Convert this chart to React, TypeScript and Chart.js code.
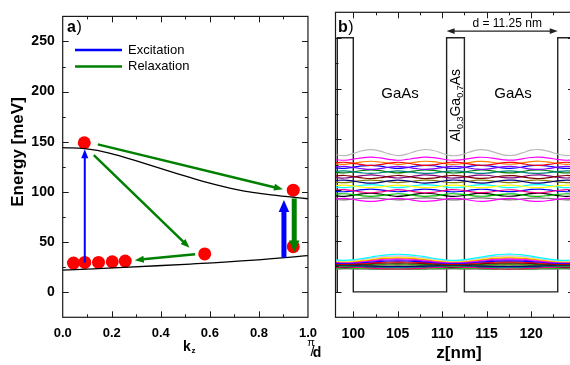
import React, { useEffect, useRef } from 'react';
import { Chart, registerables } from 'chart.js';
Chart.register(...registerables);

// ---------- data ----------
const KZ_TICKS = [0, 0.2, 0.4, 0.6, 0.8, 1.0];
const KZ_MINOR = [0.1, 0.3, 0.5, 0.7, 0.9];
const ENERGY_TICKS = [0, 50, 100, 150, 200, 250];
const ENERGY_MINOR = [-25, 25, 75, 125, 175, 225];
const Z_TICKS = [100, 105, 110, 115, 120];
const Z_MINOR = [102.5, 107.5, 112.5, 117.5, 122.5];

const UPPER_KZ = [0, 0.09, 0.19, 0.32, 0.45, 0.58, 0.71, 0.85, 1.0];
const UPPER_DISP = [144.1, 143.1, 138.8, 129.4, 119.6, 110.0, 102.4, 97.0, 93.2];
const LOWER_KZ = [0, 0.25, 0.52, 0.78, 1.0];
const LOWER_DISP = [22.0, 24.8, 28.1, 32.0, 36.5];

const ELECTRON_KZ = [0.044, 0.09, 0.146, 0.202, 0.255, 0.579, 0.94, 0.088, 0.94];
const ELECTRON_E = [29.1, 29.7, 29.7, 30.4, 31.1, 38.2, 45.4, 149, 101.7];

// [kz0, E0, kz1, E1]
const EXCITATION_ARROWS = [
  [0.09, 29.5, 0.09, 142.5],
  [0.902, 34.6, 0.902, 91.9],
];
const RELAXATION_ARROWS = [
  [0.143, 147.4, 0.898, 102.6],
  [0.127, 136.6, 0.517, 44.4],
  [0.54, 37.9, 0.294, 32.0],
  [0.944, 93.5, 0.944, 39.5],
];

const POT_Z = [98.2, 98.2, 100, 100, 110.5, 110.5, 112.5, 112.5, 123, 123, 126];
const POT_E = [0, 250, 250, 0, 0, 250, 250, 0, 0, 250, 250];
const PERIOD_ARROW = [110.5, 123.0, 256.5];

const WAVE_Z = [98, 99, 100, 101, 102, 103, 104, 105, 106, 107, 108, 109, 110, 111, 112, 113, 114, 115, 116, 117, 118, 119, 120, 121, 122, 123, 124, 125];
const UPPER_SHAPE = [0.15, 0.0, 0.35, 0.8, 1.0, 0.75, 0.3, 0.0, 0.25, 0.7, 1.0, 0.85, 0.4, 0.0, 0.1, 0.55, 0.95, 0.9, 0.5, 0.1, 0.05, 0.45, 0.9, 1.0, 0.7, 0.25, 0.0, 0.2];
const LOWER_SHAPE = [0.1, 0.0, 0.1, 0.3, 0.55, 0.8, 0.95, 1.0, 0.95, 0.8, 0.6, 0.35, 0.15, 0.0, 0.05, 0.2, 0.45, 0.7, 0.9, 1.0, 1.0, 0.9, 0.7, 0.45, 0.2, 0.05, 0.0, 0.1];

const UPPER_BASE = [134, 129.5, 127.5, 125.5, 123.5, 121.5, 119, 117, 114.5, 112, 110, 107.5, 105, 102.5, 100.5, 98.5, 96.5, 94, 92, 90.5];
const UPPER_AMP = [6, 3, -3, 3, -3, 3, -2.5, 3, -3, 3, -3, 2.5, -2.5, 3, -3, 2.5, -2.5, 3, -3, 2];
const LOWER_BASE = [31, 30.5, 30, 29.5, 29, 28.5, 28, 27.5, 27, 26.5, 26, 25.5, 25, 24.5, 24, 23.5, 23, 22.5];
const LOWER_AMP = [6, 5, 4.5, 4, 3.5, 3, 2.5, 2, 1.5, 1, -1, -1.5, 1.5, -2, 1, -1, 0.5, -0.5];

// ---------- styles ----------
const UPPER_COLORS = ['#B8B8B8', '#FF00FF', '#FF0000', '#FF8000', '#8000FF', '#0000FF', '#008080', '#008000', '#800000', '#800080', '#000080', '#808000', '#FFFF00', '#00FFFF', '#FF0080', '#0000FF', '#00C000', '#000000', '#FF00FF', '#707070'];
const LOWER_COLORS = ['#00FFFF', '#C0C0FF', '#FFFF00', '#FF8000', '#FF00FF', '#8000FF', '#0000FF', '#FF0000', '#800000', '#008000', '#000080', '#008080', '#808000', '#FF0080', '#000000', '#00FF00', '#800080', '#808080'];
const EXC_WIDTHS = [2, 5];
const REL_WIDTHS = [2.5, 2.5, 2.5, 5];
const BLUE = '#0000FF';
const GREEN = '#008000';
const FONT = 'Arial, "Liberation Sans", sans-serif';

function drawArrow(ctx: CanvasRenderingContext2D, x0: number, y0: number, x1: number, y1: number, color: string, width: number) {
  const thick = width >= 4;
  const headLen = thick ? 12 : 9;
  const headW = thick ? 10.5 : 7;
  const dx = x1 - x0, dy = y1 - y0;
  const L = Math.hypot(dx, dy);
  const ux = dx / L, uy = dy / L;
  const bx = x1 - ux * headLen, by = y1 - uy * headLen;
  ctx.save();
  ctx.strokeStyle = color;
  ctx.fillStyle = color;
  ctx.lineWidth = width;
  ctx.lineCap = 'butt';
  ctx.beginPath();
  ctx.moveTo(x0, y0);
  ctx.lineTo(bx + ux, by + uy);
  ctx.stroke();
  ctx.beginPath();
  ctx.moveTo(x1, y1);
  ctx.lineTo(bx - uy * headW / 2, by + ux * headW / 2);
  ctx.lineTo(bx + uy * headW / 2, by - ux * headW / 2);
  ctx.closePath();
  ctx.fill();
  ctx.restore();
}

function drawFrame(chart: any, xMajor: number[], xMinor: number[]) {
  const ctx = chart.ctx as CanvasRenderingContext2D;
  const { left, right, top, bottom } = chart.chartArea;
  const xs = chart.scales.x, ys = chart.scales.y;
  ctx.save();
  ctx.strokeStyle = '#1a1a1a';
  ctx.lineWidth = 1.2;
  ctx.strokeRect(left, top, right - left, bottom - top);
  ctx.lineWidth = 1;
  const tick = (x0: number, y0: number, x1: number, y1: number) => {
    ctx.beginPath(); ctx.moveTo(x0, y0); ctx.lineTo(x1, y1); ctx.stroke();
  };
  const xs2 = [...xMajor.map(v => [v, 6]), ...xMinor.map(v => [v, 3])];
  xs2.forEach(([v, l]) => {
    const p = Math.round(xs.getPixelForValue(v)) + 0.5;
    if (p <= left + 1 || p >= right - 1) return;
    tick(p, bottom, p, bottom - l);
    tick(p, top, p, top + l);
  });
  const ys2 = [...ENERGY_TICKS.map(v => [v, 6]), ...ENERGY_MINOR.map(v => [v, 3])];
  ys2.forEach(([v, l]) => {
    const p = Math.round(ys.getPixelForValue(v)) + 0.5;
    if (p <= top + 1 || p >= bottom - 1) return;
    tick(left, p, left + l, p);
    tick(right, p, right - l, p);
  });
  ctx.restore();
}

const leftPlugin = {
  id: 'leftDecor',
  afterDatasetsDraw(chart: any) {
    const ctx = chart.ctx as CanvasRenderingContext2D;
    const xs = chart.scales.x, ys = chart.scales.y;
    drawFrame(chart, KZ_TICKS, KZ_MINOR);
    EXCITATION_ARROWS.forEach((a, i) => drawArrow(ctx, xs.getPixelForValue(a[0]), ys.getPixelForValue(a[1]), xs.getPixelForValue(a[2]), ys.getPixelForValue(a[3]), BLUE, EXC_WIDTHS[i]));
    RELAXATION_ARROWS.forEach((a, i) => drawArrow(ctx, xs.getPixelForValue(a[0]), ys.getPixelForValue(a[1]), xs.getPixelForValue(a[2]), ys.getPixelForValue(a[3]), GREEN, REL_WIDTHS[i]));
    ctx.save();
    // legend
    ctx.lineWidth = 2.5;
    ctx.strokeStyle = BLUE;
    ctx.beginPath(); ctx.moveTo(75, 50); ctx.lineTo(122, 50); ctx.stroke();
    ctx.strokeStyle = GREEN;
    ctx.beginPath(); ctx.moveTo(75, 66.5); ctx.lineTo(122, 66.5); ctx.stroke();
    ctx.fillStyle = '#000';
    ctx.font = `13px ${FONT}`;
    ctx.textAlign = 'left';
    ctx.textBaseline = 'middle';
    ctx.fillText('Excitation', 128, 50);
    ctx.fillText('Relaxation', 128, 66.5);
    // panel label
    ctx.textBaseline = 'alphabetic';
    ctx.font = `bold 16px ${FONT}`;
    ctx.fillText('a', 67, 31.5);
    const aw = ctx.measureText('a').width;
    ctx.font = `16px ${FONT}`;
    ctx.fillText(')', 67 + aw + 0.5, 31.5);
    // y title
    ctx.save();
    ctx.translate(23, 152);
    ctx.rotate(-Math.PI / 2);
    ctx.font = `bold 17px ${FONT}`;
    ctx.textAlign = 'center';
    ctx.fillText('Energy [meV]', 0, 0);
    ctx.restore();
    // k_z
    ctx.font = `bold 14px ${FONT}`;
    ctx.textAlign = 'left';
    ctx.fillText('k', 183, 350.5);
    ctx.font = `bold 8px ${FONT}`;
    ctx.fillText('z', 191.5, 353);
    // pi / d
    ctx.font = `11px ${FONT}`;
    ctx.textAlign = 'center';
    ctx.fillText('π', 311, 346);
    ctx.font = `15px ${FONT}`;
    ctx.fillText('/', 312.5, 356);
    ctx.font = `bold 14px ${FONT}`;
    ctx.fillText('d', 317, 356.5);
    ctx.restore();
  },
};

const rightPlugin = {
  id: 'rightDecor',
  afterDatasetsDraw(chart: any) {
    const ctx = chart.ctx as CanvasRenderingContext2D;
    const xs = chart.scales.x, ys = chart.scales.y;
    drawFrame(chart, Z_TICKS, Z_MINOR);
    const off = 325;
    ctx.save();
    // period arrow
    const ay = ys.getPixelForValue(PERIOD_ARROW[2]);
    const ax0 = xs.getPixelForValue(PERIOD_ARROW[0]);
    const ax1 = xs.getPixelForValue(PERIOD_ARROW[1]);
    ctx.strokeStyle = '#222';
    ctx.fillStyle = '#222';
    ctx.lineWidth = 1.2;
    ctx.beginPath(); ctx.moveTo(ax0 + 6, ay); ctx.lineTo(ax1 - 6, ay); ctx.stroke();
    ctx.beginPath(); ctx.moveTo(ax0, ay); ctx.lineTo(ax0 + 8, ay - 2.8); ctx.lineTo(ax0 + 8, ay + 2.8); ctx.closePath(); ctx.fill();
    ctx.beginPath(); ctx.moveTo(ax1, ay); ctx.lineTo(ax1 - 8, ay - 2.8); ctx.lineTo(ax1 - 8, ay + 2.8); ctx.closePath(); ctx.fill();
    ctx.fillStyle = '#000';
    ctx.font = `12px ${FONT}`;
    ctx.textAlign = 'center';
    ctx.textBaseline = 'middle';
    ctx.fillText('d = 11.25 nm', (ax0 + ax1) / 2 + 5, ay - 7);
    // labels
    ctx.font = `15px ${FONT}`;
    ctx.fillText('GaAs', 400 - off, 94);
    ctx.fillText('GaAs', 513 - off, 94);
    ctx.textAlign = 'left';
    ctx.textBaseline = 'alphabetic';
    ctx.font = `bold 16px ${FONT}`;
    ctx.fillText('b', 338 - off, 31.5);
    const bw = ctx.measureText('b').width;
    ctx.font = `16px ${FONT}`;
    ctx.fillText(')', 338 - off + bw + 0.5, 31.5);
    // Al0.3Ga0.7As vertical
    ctx.save();
    ctx.translate(459.5 - off, 141.5);
    ctx.rotate(-Math.PI / 2);
    let x = 0;
    const parts: [string, boolean][] = [['Al', false], ['0.3', true], ['Ga', false], ['0.7', true], ['As', false]];
    parts.forEach(([t, sub]) => {
      ctx.font = sub ? `9px ${FONT}` : `14px ${FONT}`;
      ctx.fillText(t, x, sub ? 3 : 0);
      x += ctx.measureText(t).width;
    });
    ctx.restore();
    // z[nm]
    ctx.font = `bold 17px ${FONT}`;
    ctx.textAlign = 'center';
    ctx.fillText('z[nm]', 459 - off, 358);
    ctx.restore();
  },
};

const tickFont = (size: number) => ({ family: FONT, size, weight: 'bold' as const });

export default function App() {
  const leftRef = useRef<HTMLCanvasElement>(null);
  const rightRef = useRef<HTMLCanvasElement>(null);

  useEffect(() => {
    const left = new Chart(leftRef.current!, {
      type: 'scatter',
      data: {
        datasets: [
          { data: UPPER_KZ.map((x, i) => ({ x, y: UPPER_DISP[i] })), showLine: true, borderColor: '#000', borderWidth: 1.3, pointRadius: 0, pointHoverRadius: 0, tension: 0.4 } as any,
          { data: LOWER_KZ.map((x, i) => ({ x, y: LOWER_DISP[i] })), showLine: true, borderColor: '#000', borderWidth: 1.3, pointRadius: 0, pointHoverRadius: 0, tension: 0.4 } as any,
          { data: ELECTRON_KZ.map((x, i) => ({ x, y: ELECTRON_E[i] })), showLine: false, pointRadius: 6.5, pointBackgroundColor: '#FF0000', pointBorderWidth: 0, backgroundColor: '#FF0000' } as any,
        ],
      },
      options: {
        animation: false,
        responsive: false,
        events: [],
        layout: { padding: { top: 12.3, right: 9.3, left: 0, bottom: 0 } },
        plugins: { legend: { display: false }, tooltip: { enabled: false } },
        scales: {
          x: {
            type: 'linear', min: 0, max: 1,
            afterBuildTicks: (s: any) => { s.ticks = KZ_TICKS.map(v => ({ value: v })); },
            afterFit: (s: any) => { s.height = 47.7; },
            grid: { display: false, drawTicks: false },
            border: { display: false },
            ticks: { autoSkip: false, maxRotation: 0, padding: 8, color: '#000', font: tickFont(13), callback: (v: any) => Number(v).toFixed(1) },
          },
          y: {
            type: 'linear', min: -25, max: 275,
            afterBuildTicks: (s: any) => { s.ticks = ENERGY_TICKS.map(v => ({ value: v })); },
            afterFit: (s: any) => { s.width = 62.7; },
            grid: { display: false, drawTicks: false },
            border: { display: false },
            ticks: { autoSkip: false, padding: 8, color: '#000', font: tickFont(14) },
          },
        },
      } as any,
      plugins: [leftPlugin],
    });

    const waves: any[] = [];
    UPPER_BASE.forEach((b, k) => {
      waves.push({ data: WAVE_Z.map((z, i) => ({ x: z, y: b + UPPER_AMP[k] * UPPER_SHAPE[i] })), showLine: true, borderColor: UPPER_COLORS[k], borderWidth: 1.2, pointRadius: 0, pointHoverRadius: 0, tension: 0.4 });
    });
    LOWER_BASE.forEach((b, k) => {
      waves.push({ data: WAVE_Z.map((z, i) => ({ x: z, y: b + LOWER_AMP[k] * LOWER_SHAPE[i] })), showLine: true, borderColor: LOWER_COLORS[k], borderWidth: 1.2, pointRadius: 0, pointHoverRadius: 0, tension: 0.4 });
    });
    waves.push({ data: POT_Z.map((z, i) => ({ x: z, y: POT_E[i] })), showLine: true, borderColor: '#222', borderWidth: 1.4, pointRadius: 0, pointHoverRadius: 0, tension: 0 });

    const right = new Chart(rightRef.current!, {
      type: 'scatter',
      data: { datasets: waves },
      options: {
        animation: false,
        responsive: false,
        events: [],
        layout: { padding: { top: 12.3, right: 6, left: 0, bottom: 0 } },
        plugins: { legend: { display: false }, tooltip: { enabled: false } },
        scales: {
          x: {
            type: 'linear', min: 98, max: 124.83,
            afterBuildTicks: (s: any) => { s.ticks = Z_TICKS.map(v => ({ value: v })); },
            afterFit: (s: any) => { s.height = 47.7; },
            grid: { display: false, drawTicks: false },
            border: { display: false },
            ticks: { autoSkip: false, maxRotation: 0, padding: 8, color: '#000', font: tickFont(14) },
          },
          y: {
            type: 'linear', min: -25, max: 275,
            afterBuildTicks: (s: any) => { s.ticks = ENERGY_TICKS.map(v => ({ value: v })); },
            afterFit: (s: any) => { s.width = 10.5; },
            grid: { display: false, drawTicks: false },
            border: { display: false },
            ticks: { display: false },
          },
        },
      } as any,
      plugins: [rightPlugin],
    });

    return () => { left.destroy(); right.destroy(); };
  }, []);

  return (
    <div style={{ position: 'fixed', left: 0, top: 0, width: 570, height: 365, overflow: 'hidden', background: '#fff' }}>
      <canvas ref={leftRef} width={325} height={365} style={{ position: 'absolute', left: 0, top: 0, width: 325, height: 365 }} />
      <canvas ref={rightRef} width={255} height={365} style={{ position: 'absolute', left: 325, top: 0, width: 255, height: 365 }} />
    </div>
  );
}
